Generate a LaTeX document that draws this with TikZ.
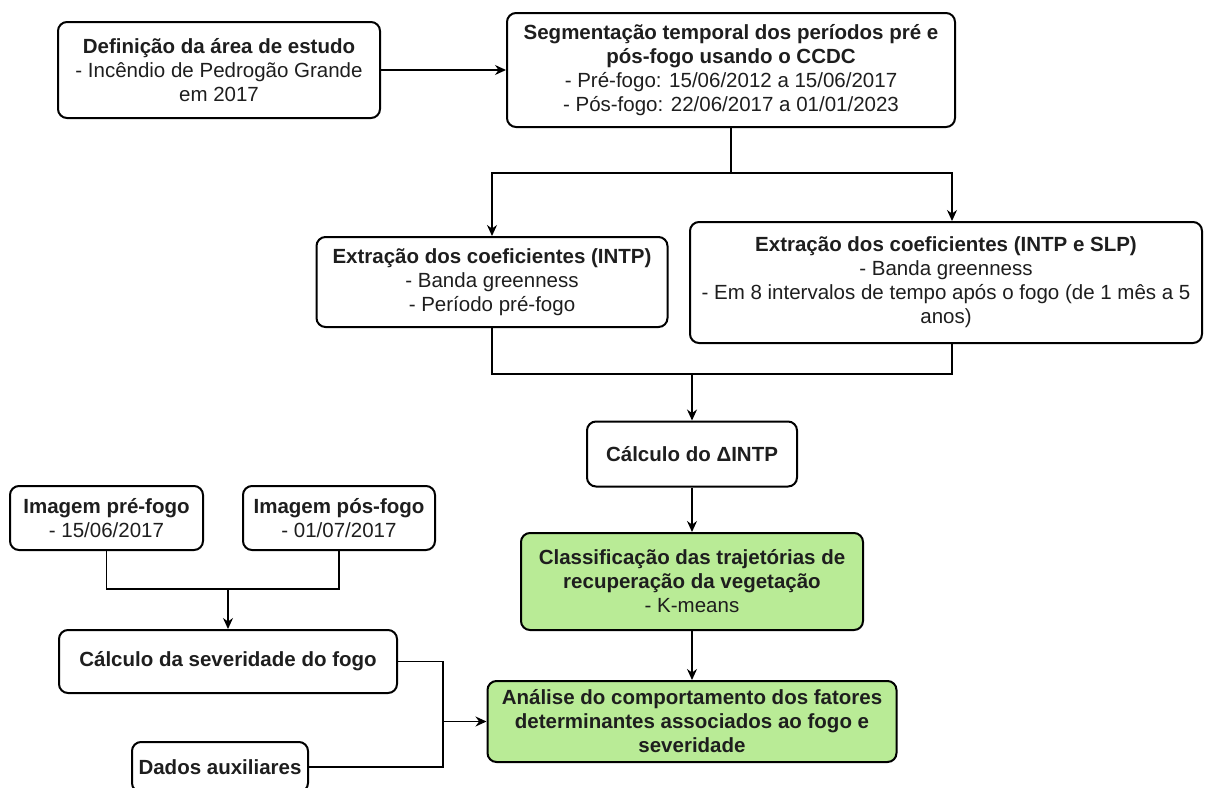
\documentclass[tikz,border=0pt]{standalone}
\usepackage{fontspec}
\setmainfont{Liberation Sans}
\usetikzlibrary{arrows.meta}
\definecolor{txt}{RGB}{30,30,30}
\definecolor{grn}{RGB}{185,235,150}
\newcommand\fsz{\fontsize{20.5}{24}\selectfont}
\begin{document}
\begin{tikzpicture}[x=1pt,y=-1pt,
  box/.style={draw=black, rounded corners=9pt, line width=2pt, align=center, inner sep=0pt, font=\fsz, text=txt, fill=white},
  gbox/.style={box, fill=grn},
  conn/.style={draw=black, line width=1.4pt},
  arr/.style={conn, -{Stealth[length=11pt,width=10pt]}}]
\useasboundingbox (0,0) rectangle (1217,787);
\clip (0,0) rectangle (1217,787);

\node[box, minimum width=322pt, minimum height=96pt] (b1) at (219,70)
  {\textbf{Definição da área de estudo}\\- Incêndio de Pedrogão Grande\\em 2017};
\node[box, minimum width=448pt, minimum height=114pt] (b2) at (731,70)
  {\textbf{Segmentação temporal dos períodos pré e}\\\textbf{pós-fogo usando o CCDC}\\- Pré-fogo: 15/06/2012 a 15/06/2017\\- Pós-fogo: 22/06/2017 a 01/01/2023};
\node[box, minimum width=351pt, minimum height=90pt] (b3) at (492,282)
  {\textbf{Extração dos coeficientes (INTP)}\\- Banda greenness\\- Período pré-fogo};
\node[box, minimum width=512pt, minimum height=121pt] (b4) at (946,282.5)
  {\textbf{Extração dos coeficientes (INTP e SLP)}\\- Banda greenness\\- Em 8 intervalos de tempo após o fogo (de 1 mês a 5\\anos)};
\node[box, minimum width=210pt, minimum height=65pt] (b5) at (692,454)
  {\textbf{Cálculo do ΔINTP}};
\node[gbox, minimum width=342pt, minimum height=97pt] (b6) at (692,581.5)
  {\textbf{Classificação das trajetórias de}\\\textbf{recuperação da vegetação}\\- K-means};
\node[gbox, minimum width=409pt, minimum height=81pt] (b7) at (692,721.5)
  {\textbf{Análise do comportamento dos fatores}\\\textbf{determinantes associados ao fogo e}\\\textbf{severidade}};
\node[box, minimum width=193pt, minimum height=64pt] (pre) at (106.5,518)
  {\textbf{Imagem pré-fogo}\\- 15/06/2017};
\node[box, minimum width=192pt, minimum height=64pt] (pos) at (339,518)
  {\textbf{Imagem pós-fogo}\\- 01/07/2017};
\node[box, minimum width=338pt, minimum height=63pt] (sev) at (228,661.5)
  {\textbf{Cálculo da severidade do fogo}};
\node[box, minimum width=176pt, minimum height=50pt] (dad) at (220,767)
  {\textbf{Dados auxiliares}};

\coordinate (j1) at (731,173);
\coordinate (j2) at (692,374);
\coordinate (j3) at (228,589);
\coordinate (j4) at (443,721.5);

\draw[arr] (b1) -- (b2);
\draw[conn] (b2) -- (j1);
\draw[arr] (j1) -| (b3);
\draw[arr] (j1) -| ([xshift=6pt]b4.north);
\draw[conn] (b3) |- (j2);
\draw[conn] ([xshift=6pt]b4.south) |- (j2);
\draw[arr] (j2) -- (b5);
\draw[arr] (b5) -- (b6);
\draw[arr] (b6) -- (b7);
\draw[conn] (pre) |- (j3);
\draw[conn] (pos) |- (j3);
\draw[arr] (j3) -- (sev);
\draw[conn] (sev) -| (j4);
\draw[conn] (dad) -| (j4);
\draw[arr] (j4) -- (b7);
\end{tikzpicture}
\end{document}
